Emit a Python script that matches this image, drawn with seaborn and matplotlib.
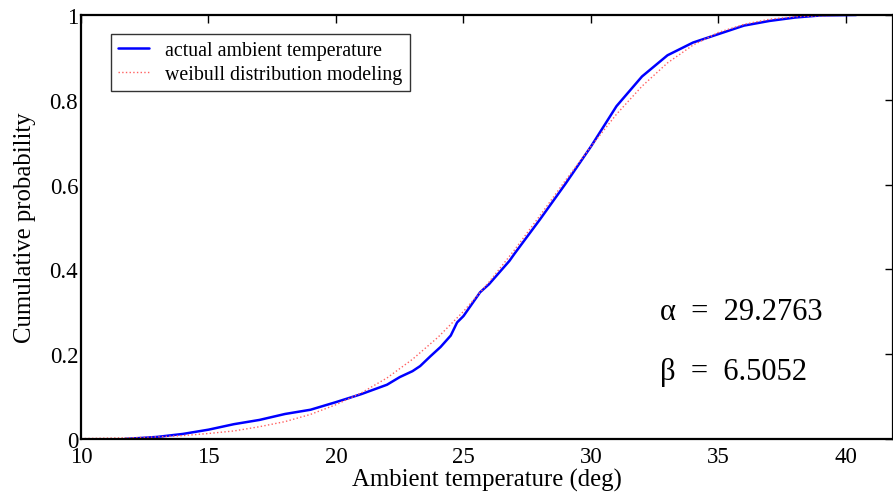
import numpy as np
import pandas as pd
import seaborn as sns
import matplotlib
matplotlib.use("Agg")
import matplotlib.pyplot as plt

# values
actual_temp = [11.7, 12.5, 13, 14, 15, 16, 17, 18, 19, 20, 21, 22, 22.5, 23, 23.3,
               23.7, 24.1, 24.5, 24.75, 25, 25.65, 26, 26.8, 27, 28, 29, 30, 31,
               32, 33, 34, 35, 36, 37, 38, 39, 40.4]
actual_cdf = [0.0, 0.003, 0.005, 0.012, 0.022, 0.035, 0.045, 0.059, 0.069, 0.087,
              0.106, 0.128, 0.146, 0.160, 0.172, 0.195, 0.217, 0.244, 0.275, 0.29,
              0.346, 0.365, 0.42, 0.437, 0.518, 0.602, 0.69, 0.785, 0.855, 0.905,
              0.935, 0.955, 0.975, 0.986, 0.994, 0.999, 1.0]

weibull_temp = [10, 11, 12, 13, 14, 15, 16, 17, 18, 19, 20, 21, 22, 23, 24, 25,
                26, 27, 28, 29, 30, 31, 32, 33, 34, 35, 36, 37, 38, 39, 40.4]
weibull_cdf = [0.001, 0.002, 0.003, 0.005, 0.008, 0.013, 0.019, 0.029, 0.041,
               0.058, 0.081, 0.109, 0.144, 0.188, 0.240, 0.301, 0.370, 0.446,
               0.527, 0.610, 0.690, 0.766, 0.832, 0.887, 0.929, 0.959, 0.978,
               0.990, 0.996, 0.998, 1.0]

alpha_val = "29.2763"
beta_val = "6.5052"

sns.set_theme(style="white")
plt.rcParams['font.family'] = ['Liberation Serif', 'DejaVu Serif']
plt.rcParams['axes.edgecolor'] = 'black'
plt.rcParams['axes.linewidth'] = 1.6
plt.rcParams['text.color'] = 'black'
plt.rcParams['axes.labelcolor'] = 'black'

fig = plt.figure(figsize=(8.93, 5.02), dpi=100)
ax = fig.add_axes([81/893, 62/502, 812/893, 424/502])

sns.lineplot(x=actual_temp, y=actual_cdf, ax=ax, color='blue', linewidth=1.8,
             label='actual ambient temperature')
sns.lineplot(x=weibull_temp, y=weibull_cdf, ax=ax, color='#ff6060', linewidth=1.0,
             linestyle=':', label='weibull distribution modeling')

ax.set_xlim(10, 10 + 812 / 25.5)
ax.set_ylim(0, 1)
ax.set_xticks([10, 15, 20, 25, 30, 35, 40])
ax.set_yticks([0, 0.2, 0.4, 0.6, 0.8, 1])
ax.set_yticklabels(['0', '0.2', '0.4', '0.6', '0.8', '1'])
ax.tick_params(direction='in', length=6, width=1, top=True, right=True,
               labelsize=16.5, colors='black', pad=2)
ax.tick_params(axis='x', pad=5)

ax.set_xlabel('Ambient temperature (deg)', fontsize=17.8, labelpad=1)
ax.set_ylabel('Cumulative probability', fontsize=17.8, labelpad=10)

leg = ax.legend(loc='upper left', bbox_to_anchor=(0.0366, 0.955), borderaxespad=0,
                fontsize=14.3, frameon=True, fancybox=False, handlelength=1.6,
                borderpad=0.35, labelspacing=0.25, handletextpad=0.8)
leg.get_frame().set_edgecolor('black')
leg.get_frame().set_linewidth(1.0)

ax.text(0.713, 0.30, "\u03b1  =  " + alpha_val, transform=ax.transAxes,
        fontsize=22, va='center', ha='left')
ax.text(0.713, 0.16, "\u03b2  =  " + beta_val, transform=ax.transAxes,
        fontsize=22, va='center', ha='left')

plt.savefig('out.png', dpi=100)
